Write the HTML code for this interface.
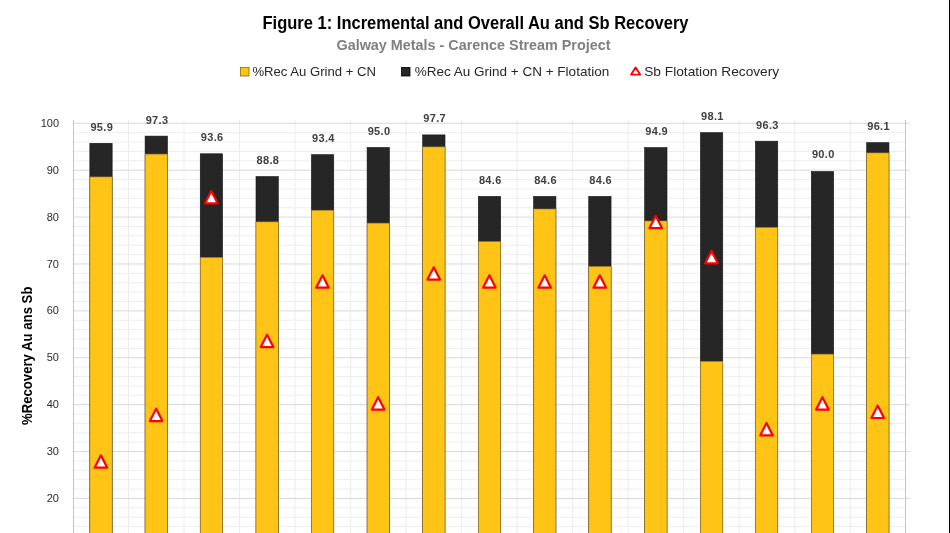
<!DOCTYPE html>
<html><head><meta charset="utf-8"><style>
html,body{margin:0;padding:0;background:#fff;}
body{width:950px;height:533px;overflow:hidden;position:relative;font-family:"Liberation Sans",sans-serif;}
svg{position:absolute;left:0;top:0;will-change:transform;}
.ax{font-size:11px;fill:#2A2A2A;}
.lab{font-size:11px;font-weight:bold;fill:#404040;letter-spacing:0.35px;}
.t1{font-size:17.6px;font-weight:bold;fill:#000;}
.t2{font-size:14.5px;font-weight:bold;fill:#7F7F7F;}
.lg{font-size:13.5px;fill:#262626;}
.yt{font-size:13.9px;font-weight:bold;fill:#000;}
</style></head><body>
<svg width="950" height="533" viewBox="0 0 950 533">
<text x="262.5" y="28.9" class="t1" textLength="426" lengthAdjust="spacingAndGlyphs">Figure 1: Incremental and Overall Au and Sb Recovery</text>
<text x="336.5" y="49.9" class="t2" textLength="274" lengthAdjust="spacingAndGlyphs">Galway Metals - Carence Stream Project</text>
<rect x="240.5" y="67.5" width="8.5" height="8.5" fill="#FFC416" stroke="#8a6a00" stroke-width="0.8"/>
<text x="252.4" y="75.5" class="lg" textLength="123.5" lengthAdjust="spacingAndGlyphs">%Rec Au Grind + CN</text>
<rect x="401.5" y="67.5" width="8.5" height="8.5" fill="#262626" stroke="#000" stroke-width="0.8"/>
<text x="414.7" y="75.5" class="lg" textLength="194.5" lengthAdjust="spacingAndGlyphs">%Rec Au Grind + CN + Flotation</text>
<path d="M635.6 67.4 L640.1 74.6 L631.1 74.6 Z" fill="#fff" stroke="#FF0000" stroke-width="1.9" stroke-linejoin="round"/>
<text x="644.2" y="75.5" class="lg" textLength="135" lengthAdjust="spacingAndGlyphs">Sb Flotation Recovery</text>
<line x1="73.0" y1="535.93" x2="905.75" y2="535.93" stroke="#EEEEEE" stroke-width="1"/>
<line x1="73.0" y1="526.55" x2="905.75" y2="526.55" stroke="#EEEEEE" stroke-width="1"/>
<line x1="73.0" y1="517.18" x2="905.75" y2="517.18" stroke="#EEEEEE" stroke-width="1"/>
<line x1="73.0" y1="507.80" x2="905.75" y2="507.80" stroke="#EEEEEE" stroke-width="1"/>
<line x1="73.0" y1="489.04" x2="905.75" y2="489.04" stroke="#EEEEEE" stroke-width="1"/>
<line x1="73.0" y1="479.66" x2="905.75" y2="479.66" stroke="#EEEEEE" stroke-width="1"/>
<line x1="73.0" y1="470.29" x2="905.75" y2="470.29" stroke="#EEEEEE" stroke-width="1"/>
<line x1="73.0" y1="460.91" x2="905.75" y2="460.91" stroke="#EEEEEE" stroke-width="1"/>
<line x1="73.0" y1="442.15" x2="905.75" y2="442.15" stroke="#EEEEEE" stroke-width="1"/>
<line x1="73.0" y1="432.77" x2="905.75" y2="432.77" stroke="#EEEEEE" stroke-width="1"/>
<line x1="73.0" y1="423.40" x2="905.75" y2="423.40" stroke="#EEEEEE" stroke-width="1"/>
<line x1="73.0" y1="414.02" x2="905.75" y2="414.02" stroke="#EEEEEE" stroke-width="1"/>
<line x1="73.0" y1="395.26" x2="905.75" y2="395.26" stroke="#EEEEEE" stroke-width="1"/>
<line x1="73.0" y1="385.88" x2="905.75" y2="385.88" stroke="#EEEEEE" stroke-width="1"/>
<line x1="73.0" y1="376.51" x2="905.75" y2="376.51" stroke="#EEEEEE" stroke-width="1"/>
<line x1="73.0" y1="367.13" x2="905.75" y2="367.13" stroke="#EEEEEE" stroke-width="1"/>
<line x1="73.0" y1="348.37" x2="905.75" y2="348.37" stroke="#EEEEEE" stroke-width="1"/>
<line x1="73.0" y1="338.99" x2="905.75" y2="338.99" stroke="#EEEEEE" stroke-width="1"/>
<line x1="73.0" y1="329.62" x2="905.75" y2="329.62" stroke="#EEEEEE" stroke-width="1"/>
<line x1="73.0" y1="320.24" x2="905.75" y2="320.24" stroke="#EEEEEE" stroke-width="1"/>
<line x1="73.0" y1="301.48" x2="905.75" y2="301.48" stroke="#EEEEEE" stroke-width="1"/>
<line x1="73.0" y1="292.10" x2="905.75" y2="292.10" stroke="#EEEEEE" stroke-width="1"/>
<line x1="73.0" y1="282.73" x2="905.75" y2="282.73" stroke="#EEEEEE" stroke-width="1"/>
<line x1="73.0" y1="273.35" x2="905.75" y2="273.35" stroke="#EEEEEE" stroke-width="1"/>
<line x1="73.0" y1="254.59" x2="905.75" y2="254.59" stroke="#EEEEEE" stroke-width="1"/>
<line x1="73.0" y1="245.21" x2="905.75" y2="245.21" stroke="#EEEEEE" stroke-width="1"/>
<line x1="73.0" y1="235.84" x2="905.75" y2="235.84" stroke="#EEEEEE" stroke-width="1"/>
<line x1="73.0" y1="226.46" x2="905.75" y2="226.46" stroke="#EEEEEE" stroke-width="1"/>
<line x1="73.0" y1="207.70" x2="905.75" y2="207.70" stroke="#EEEEEE" stroke-width="1"/>
<line x1="73.0" y1="198.32" x2="905.75" y2="198.32" stroke="#EEEEEE" stroke-width="1"/>
<line x1="73.0" y1="188.95" x2="905.75" y2="188.95" stroke="#EEEEEE" stroke-width="1"/>
<line x1="73.0" y1="179.57" x2="905.75" y2="179.57" stroke="#EEEEEE" stroke-width="1"/>
<line x1="73.0" y1="160.81" x2="905.75" y2="160.81" stroke="#EEEEEE" stroke-width="1"/>
<line x1="73.0" y1="151.43" x2="905.75" y2="151.43" stroke="#EEEEEE" stroke-width="1"/>
<line x1="73.0" y1="142.06" x2="905.75" y2="142.06" stroke="#EEEEEE" stroke-width="1"/>
<line x1="73.0" y1="132.68" x2="905.75" y2="132.68" stroke="#EEEEEE" stroke-width="1"/>
<line x1="128.52" y1="120" x2="128.52" y2="533" stroke="#EDEDED" stroke-width="1"/>
<line x1="184.03" y1="120" x2="184.03" y2="533" stroke="#EDEDED" stroke-width="1"/>
<line x1="239.55" y1="120" x2="239.55" y2="533" stroke="#EDEDED" stroke-width="1"/>
<line x1="295.07" y1="120" x2="295.07" y2="533" stroke="#EDEDED" stroke-width="1"/>
<line x1="350.59" y1="120" x2="350.59" y2="533" stroke="#EDEDED" stroke-width="1"/>
<line x1="406.10" y1="120" x2="406.10" y2="533" stroke="#EDEDED" stroke-width="1"/>
<line x1="461.62" y1="120" x2="461.62" y2="533" stroke="#EDEDED" stroke-width="1"/>
<line x1="517.14" y1="120" x2="517.14" y2="533" stroke="#EDEDED" stroke-width="1"/>
<line x1="572.65" y1="120" x2="572.65" y2="533" stroke="#EDEDED" stroke-width="1"/>
<line x1="628.17" y1="120" x2="628.17" y2="533" stroke="#EDEDED" stroke-width="1"/>
<line x1="683.69" y1="120" x2="683.69" y2="533" stroke="#EDEDED" stroke-width="1"/>
<line x1="739.20" y1="120" x2="739.20" y2="533" stroke="#EDEDED" stroke-width="1"/>
<line x1="794.72" y1="120" x2="794.72" y2="533" stroke="#EDEDED" stroke-width="1"/>
<line x1="850.24" y1="120" x2="850.24" y2="533" stroke="#EDEDED" stroke-width="1"/>
<line x1="73.0" y1="498.42" x2="909.75" y2="498.42" stroke="#D9D9D9" stroke-width="1"/>
<line x1="73.0" y1="451.53" x2="909.75" y2="451.53" stroke="#D9D9D9" stroke-width="1"/>
<line x1="73.0" y1="404.64" x2="909.75" y2="404.64" stroke="#D9D9D9" stroke-width="1"/>
<line x1="73.0" y1="357.75" x2="909.75" y2="357.75" stroke="#D9D9D9" stroke-width="1"/>
<line x1="73.0" y1="310.86" x2="909.75" y2="310.86" stroke="#D9D9D9" stroke-width="1"/>
<line x1="73.0" y1="263.97" x2="909.75" y2="263.97" stroke="#D9D9D9" stroke-width="1"/>
<line x1="73.0" y1="217.08" x2="909.75" y2="217.08" stroke="#D9D9D9" stroke-width="1"/>
<line x1="73.0" y1="170.19" x2="909.75" y2="170.19" stroke="#D9D9D9" stroke-width="1"/>
<line x1="73.0" y1="123.30" x2="909.75" y2="123.30" stroke="#D9D9D9" stroke-width="1"/>
<line x1="73.5" y1="120" x2="73.5" y2="533" stroke="#C4C4C4" stroke-width="1"/>
<line x1="905.5" y1="120" x2="905.5" y2="533" stroke="#C4C4C4" stroke-width="1"/>
<text x="59" y="502.02" text-anchor="end" class="ax">20</text>
<text x="59" y="455.13" text-anchor="end" class="ax">30</text>
<text x="59" y="408.24" text-anchor="end" class="ax">40</text>
<text x="59" y="361.35" text-anchor="end" class="ax">50</text>
<text x="59" y="314.46" text-anchor="end" class="ax">60</text>
<text x="59" y="267.57" text-anchor="end" class="ax">70</text>
<text x="59" y="220.68" text-anchor="end" class="ax">80</text>
<text x="59" y="173.79" text-anchor="end" class="ax">90</text>
<text x="59" y="126.90" text-anchor="end" class="ax">100</text>
<rect x="89.85" y="143.30" width="22.3" height="394.70" fill="#262626" stroke="#111" stroke-width="0.6"/>
<rect x="89.85" y="176.91" width="22.3" height="361.09" fill="#FFC416" stroke="#8C7430" stroke-width="0.6"/>
<text x="101.80" y="130.62" text-anchor="middle" class="lab">95.9</text>
<rect x="145.10" y="136.10" width="22.3" height="401.90" fill="#262626" stroke="#111" stroke-width="0.6"/>
<rect x="145.10" y="154.08" width="22.3" height="383.92" fill="#FFC416" stroke="#8C7430" stroke-width="0.6"/>
<text x="157.05" y="124.06" text-anchor="middle" class="lab">97.3</text>
<rect x="200.25" y="153.80" width="22.3" height="384.20" fill="#262626" stroke="#111" stroke-width="0.6"/>
<rect x="200.25" y="257.38" width="22.3" height="280.62" fill="#FFC416" stroke="#8C7430" stroke-width="0.6"/>
<text x="212.20" y="141.41" text-anchor="middle" class="lab">93.6</text>
<rect x="256.00" y="176.60" width="22.3" height="361.40" fill="#262626" stroke="#111" stroke-width="0.6"/>
<rect x="256.00" y="221.88" width="22.3" height="316.12" fill="#FFC416" stroke="#8C7430" stroke-width="0.6"/>
<text x="267.95" y="163.92" text-anchor="middle" class="lab">88.8</text>
<rect x="311.45" y="154.70" width="22.3" height="383.30" fill="#262626" stroke="#111" stroke-width="0.6"/>
<rect x="311.45" y="210.21" width="22.3" height="327.79" fill="#FFC416" stroke="#8C7430" stroke-width="0.6"/>
<text x="323.40" y="142.35" text-anchor="middle" class="lab">93.4</text>
<rect x="367.11" y="147.50" width="22.3" height="390.50" fill="#262626" stroke="#111" stroke-width="0.6"/>
<rect x="367.11" y="223.10" width="22.3" height="314.90" fill="#FFC416" stroke="#8C7430" stroke-width="0.6"/>
<text x="379.06" y="134.84" text-anchor="middle" class="lab">95.0</text>
<rect x="422.69" y="134.90" width="22.3" height="403.10" fill="#262626" stroke="#111" stroke-width="0.6"/>
<rect x="422.69" y="146.90" width="22.3" height="391.10" fill="#FFC416" stroke="#8C7430" stroke-width="0.6"/>
<text x="434.64" y="122.18" text-anchor="middle" class="lab">97.7</text>
<rect x="478.35" y="196.40" width="22.3" height="341.60" fill="#262626" stroke="#111" stroke-width="0.6"/>
<rect x="478.35" y="241.48" width="22.3" height="296.52" fill="#FFC416" stroke="#8C7430" stroke-width="0.6"/>
<text x="490.30" y="183.61" text-anchor="middle" class="lab">84.6</text>
<rect x="533.61" y="196.40" width="22.3" height="341.60" fill="#262626" stroke="#111" stroke-width="0.6"/>
<rect x="533.61" y="208.99" width="22.3" height="329.01" fill="#FFC416" stroke="#8C7430" stroke-width="0.6"/>
<text x="545.56" y="183.61" text-anchor="middle" class="lab">84.6</text>
<rect x="588.75" y="196.40" width="22.3" height="341.60" fill="#262626" stroke="#111" stroke-width="0.6"/>
<rect x="588.75" y="266.38" width="22.3" height="271.62" fill="#FFC416" stroke="#8C7430" stroke-width="0.6"/>
<text x="600.70" y="183.61" text-anchor="middle" class="lab">84.6</text>
<rect x="644.69" y="147.60" width="22.3" height="390.40" fill="#262626" stroke="#111" stroke-width="0.6"/>
<rect x="644.69" y="220.99" width="22.3" height="317.01" fill="#FFC416" stroke="#8C7430" stroke-width="0.6"/>
<text x="656.64" y="135.31" text-anchor="middle" class="lab">94.9</text>
<rect x="700.45" y="132.70" width="22.3" height="405.30" fill="#262626" stroke="#111" stroke-width="0.6"/>
<rect x="700.45" y="361.29" width="22.3" height="176.71" fill="#FFC416" stroke="#8C7430" stroke-width="0.6"/>
<text x="712.40" y="120.31" text-anchor="middle" class="lab">98.1</text>
<rect x="755.44" y="141.20" width="22.3" height="396.80" fill="#262626" stroke="#111" stroke-width="0.6"/>
<rect x="755.44" y="227.32" width="22.3" height="310.68" fill="#FFC416" stroke="#8C7430" stroke-width="0.6"/>
<text x="767.39" y="128.75" text-anchor="middle" class="lab">96.3</text>
<rect x="811.35" y="171.50" width="22.3" height="366.50" fill="#262626" stroke="#111" stroke-width="0.6"/>
<rect x="811.35" y="354.11" width="22.3" height="183.89" fill="#FFC416" stroke="#8C7430" stroke-width="0.6"/>
<text x="823.30" y="158.29" text-anchor="middle" class="lab">90.0</text>
<rect x="866.65" y="142.70" width="22.3" height="395.30" fill="#262626" stroke="#111" stroke-width="0.6"/>
<rect x="866.65" y="152.91" width="22.3" height="385.09" fill="#FFC416" stroke="#8C7430" stroke-width="0.6"/>
<text x="878.60" y="129.69" text-anchor="middle" class="lab">96.1</text>
<path d="M100.90 455.32 L107.20 467.72 L94.60 467.72 Z" fill="#fff" stroke="#FF0000" stroke-width="2.2" stroke-linejoin="round"/>
<path d="M156.15 408.66 L162.45 421.06 L149.85 421.06 Z" fill="#fff" stroke="#FF0000" stroke-width="2.2" stroke-linejoin="round"/>
<path d="M211.30 190.90 L217.60 203.30 L205.00 203.30 Z" fill="#fff" stroke="#FF0000" stroke-width="2.2" stroke-linejoin="round"/>
<path d="M267.05 334.72 L273.35 347.12 L260.75 347.12 Z" fill="#fff" stroke="#FF0000" stroke-width="2.2" stroke-linejoin="round"/>
<path d="M322.50 275.31 L328.80 287.71 L316.20 287.71 Z" fill="#fff" stroke="#FF0000" stroke-width="2.2" stroke-linejoin="round"/>
<path d="M378.16 397.13 L384.46 409.53 L371.86 409.53 Z" fill="#fff" stroke="#FF0000" stroke-width="2.2" stroke-linejoin="round"/>
<path d="M433.74 267.15 L440.04 279.55 L427.44 279.55 Z" fill="#fff" stroke="#FF0000" stroke-width="2.2" stroke-linejoin="round"/>
<path d="M489.40 275.31 L495.70 287.71 L483.10 287.71 Z" fill="#fff" stroke="#FF0000" stroke-width="2.2" stroke-linejoin="round"/>
<path d="M544.66 275.31 L550.96 287.71 L538.36 287.71 Z" fill="#fff" stroke="#FF0000" stroke-width="2.2" stroke-linejoin="round"/>
<path d="M599.80 275.31 L606.10 287.71 L593.50 287.71 Z" fill="#fff" stroke="#FF0000" stroke-width="2.2" stroke-linejoin="round"/>
<path d="M655.74 215.80 L662.04 228.20 L649.44 228.20 Z" fill="#fff" stroke="#FF0000" stroke-width="2.2" stroke-linejoin="round"/>
<path d="M711.50 250.88 L717.80 263.28 L705.20 263.28 Z" fill="#fff" stroke="#FF0000" stroke-width="2.2" stroke-linejoin="round"/>
<path d="M766.49 423.01 L772.79 435.41 L760.19 435.41 Z" fill="#fff" stroke="#FF0000" stroke-width="2.2" stroke-linejoin="round"/>
<path d="M822.40 397.13 L828.70 409.53 L816.10 409.53 Z" fill="#fff" stroke="#FF0000" stroke-width="2.2" stroke-linejoin="round"/>
<path d="M877.70 405.61 L884.00 418.01 L871.40 418.01 Z" fill="#fff" stroke="#FF0000" stroke-width="2.2" stroke-linejoin="round"/>
<text transform="translate(32.0 355.8) rotate(-90)" text-anchor="middle" class="yt" textLength="138.5" lengthAdjust="spacingAndGlyphs">%Recovery Au ans Sb</text>
<rect x="949" y="0" width="1" height="533" fill="#000"/>
</svg>
</body></html>
